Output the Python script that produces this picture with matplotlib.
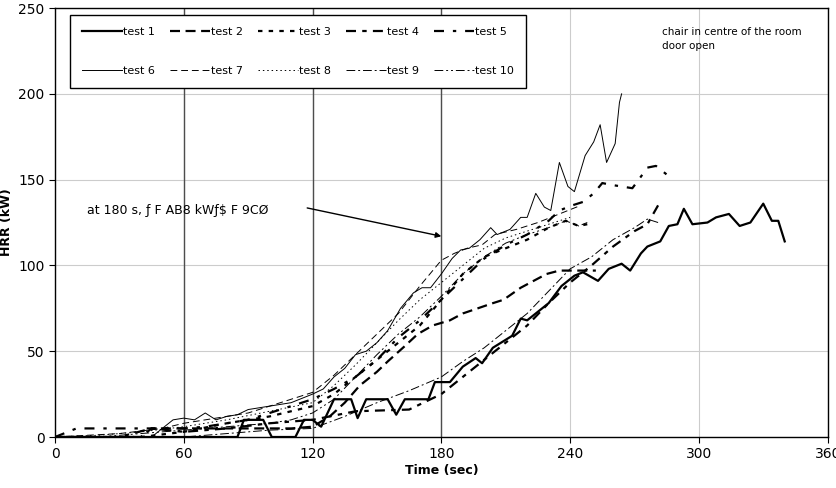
import matplotlib
matplotlib.use("Agg")
import matplotlib.pyplot as plt

# ---------------- data ----------------
t1 = [0, 85, 88, 97, 101, 112, 116, 120, 124, 130, 138, 141, 145, 155, 159, 163, 174, 177, 184, 190,
      196, 199, 204, 213, 217, 220, 230, 236, 242, 246, 253, 258, 264, 268, 273, 276, 282, 286, 290, 293,
      297, 304, 308, 314, 319, 324, 330, 334, 337, 340]
h1 = [0, 0, 10, 10, 0, 0, 10, 10, 6, 22, 22, 11, 22, 22, 13, 22, 22, 32, 32, 41,
      46, 43, 52, 59, 69, 68, 78, 88, 94, 96, 91, 98, 101, 97, 107, 111, 114, 123, 124, 133,
      124, 125, 128, 130, 123, 125, 136, 126, 126, 114]

t2 = [0, 40, 45, 60, 70, 80, 90, 100, 110, 120, 128, 135, 142, 150, 155, 163, 169, 176, 184, 190,
      204, 209, 217, 229, 235, 241, 252]
h2 = [0, 0, 5, 5, 5, 5, 5, 5, 5, 6, 12, 20, 30, 38, 44, 53, 60, 65, 68, 72,
      78, 80, 87, 95, 97, 97, 97]

t3 = [0, 40, 60, 80, 100, 120, 130, 140, 150, 160, 170, 180, 190, 200, 210, 220, 230, 238, 244, 248]
h3 = [0, 0, 3, 8, 12, 18, 25, 35, 45, 55, 65, 80, 95, 105, 110, 115, 122, 126, 123, 124]

t4 = [0, 30, 45, 60, 80, 100, 120, 140, 165, 180, 190, 200, 210, 220, 230, 240, 250, 260, 270, 276, 281]
h4 = [0, 0, 5, 3, 5, 8, 10, 15, 16, 25, 35, 45, 55, 65, 78, 90, 100, 111, 120, 124, 135]

t5 = [0, 10, 60, 70, 80, 90, 100, 110, 120, 130, 140, 150, 160, 170, 180, 190, 200, 210, 220, 230,
      235, 241, 246, 251, 255, 259, 264, 269, 272, 276, 280, 285]
h5 = [0, 5, 5, 6, 8, 10, 14, 18, 22, 28, 35, 45, 58, 68, 80, 92, 104, 112, 118, 126,
      132, 135, 137, 142, 148, 147, 146, 145, 150, 157, 158, 153]

t6 = [0, 45, 50, 55, 60, 65, 70, 75, 80, 85, 90, 100, 110, 120, 125, 130, 135, 140, 145, 150,
      155, 161, 167, 171, 175, 180, 185, 189, 193, 198, 203, 206, 212, 217, 220, 224, 228, 231, 235, 239,
      242, 247, 251, 254, 257, 261, 263, 264]
h6 = [0, 0, 5, 10, 11, 10, 14, 10, 12, 13, 16, 18, 20, 25, 28, 35, 40, 48, 50, 55,
      62, 75, 84, 87, 87, 95, 104, 109, 110, 115, 122, 118, 121, 128, 128, 142, 134, 132, 160, 146,
      143, 164, 172, 182, 160, 171, 195, 200]

t7 = [0, 30, 50, 60, 70, 80, 90, 100, 110, 120, 130, 140, 150, 160, 170, 180, 186, 192, 199, 205,
      215, 225, 235, 245]
h7 = [0, 2, 5, 8, 10, 12, 14, 18, 22, 26, 36, 48, 60, 72, 88, 103, 107, 110, 112, 118,
      121, 125, 130, 135]

t8 = [0, 20, 40, 60, 80, 100, 120, 130, 140, 150, 160, 170, 180, 190, 200, 210, 220, 230, 240]
h8 = [0, 1, 3, 6, 10, 15, 20, 30, 42, 55, 68, 80, 90, 100, 110, 116, 120, 124, 128]

t9 = [0, 60, 80, 100, 120, 135, 150, 165, 180, 190, 200, 210, 220, 230, 240, 250, 260, 270, 276, 281]
h9 = [0, 0, 2, 4, 5, 12, 20, 27, 35, 44, 52, 62, 72, 85, 98, 105, 115, 122, 127, 125]

t10 = [0, 20, 40, 60, 80, 100, 110, 120, 130, 140, 150, 160, 170, 180, 190, 200, 210, 220, 230, 238,
       244, 248]
h10 = [0, 0, 2, 4, 6, 8, 10, 14, 22, 35, 48, 60, 70, 82, 95, 105, 113, 118, 122, 126,
       123, 125]

labels = ["test 1", "test 2", "test 3", "test 4", "test 5",
          "test 6", "test 7", "test 8", "test 9", "test 10"]
times = [t1, t2, t3, t4, t5, t6, t7, t8, t9, t10]
hrrs = [h1, h2, h3, h4, h5, h6, h7, h8, h9, h10]

# line styles: (linewidth, dash pattern)
styles = [
    (1.6, None),
    (1.6, (4.5, 2.5)),
    (1.6, (2, 2.8)),
    (1.6, (4.5, 2.8, 2, 2.8)),
    (1.6, (4.5, 4, 1.5, 4)),
    (0.7, None),
    (0.7, (7, 4)),
    (0.7, (1.5, 3)),
    (0.7, (9, 3, 2, 3)),
    (0.7, (9, 3, 2, 3, 2, 3)),
]

fig = plt.figure(figsize=(8.36, 4.88), dpi=100)
ax = fig.add_axes([0.0658, 0.1045, 0.9242, 0.879])

lines = []
for t, h, lab, (lw, dash) in zip(times, hrrs, labels, styles):
    if dash is None:
        ln, = ax.plot(t, h, color="black", lw=lw, label=lab)
    else:
        ln, = ax.plot(t, h, color="black", lw=lw, dashes=dash, label=lab)
    lines.append(ln)

ax.set_xlim(0, 360)
ax.set_ylim(0, 250)
ax.set_xticks(range(0, 361, 60))
ax.set_yticks(range(0, 251, 50))
ax.grid(True, color="0.8", lw=0.8)
for xv in (60, 120, 180):
    ax.axvline(xv, color="0.3", lw=1.0, zorder=1)
ax.set_axisbelow(True)
for sp in ax.spines.values():
    sp.set_color("black")
    sp.set_linewidth(1.0)
ax.tick_params(direction="out", length=4, labelsize=10)

ax.set_xlabel("Time (sec)", fontsize=9, fontweight="bold", labelpad=2)
ax.set_ylabel("HRR (kW)", fontsize=9, fontweight="bold", labelpad=4)

# legend filled row by row (matplotlib fills column by column)
order = [0, 5, 1, 6, 2, 7, 3, 8, 4, 9]
leg = ax.legend([lines[i] for i in order], [labels[i] for i in order],
                ncol=5, loc="upper left", bbox_to_anchor=(0.019, 0.821, 0.591, 0.163),
                mode="expand", fontsize=8, frameon=True, fancybox=False,
                handlelength=3.6, handletextpad=0.1, labelspacing=2.6,
                columnspacing=1.0, borderaxespad=0, borderpad=1.1)
leg.get_frame().set_edgecolor("black")
leg.get_frame().set_linewidth(1.0)
leg.get_frame().set_alpha(1.0)
leg.set_zorder(5)

ax.text(15, 132, "at 180 s, ƒ F AB8 kWƒ$ F 9CØ", fontsize=9, va="center")
ax.annotate("", xy=(180, 117), xytext=(117.5, 133.5),
            arrowprops=dict(arrowstyle="-|>", color="black", lw=1.0,
                            shrinkA=0, shrinkB=0, mutation_scale=8))
ax.text(283, 232, "chair in centre of the room\ndoor open", fontsize=7.5,
        va="center", linespacing=1.6)

fig.savefig("out.png", dpi=100)
